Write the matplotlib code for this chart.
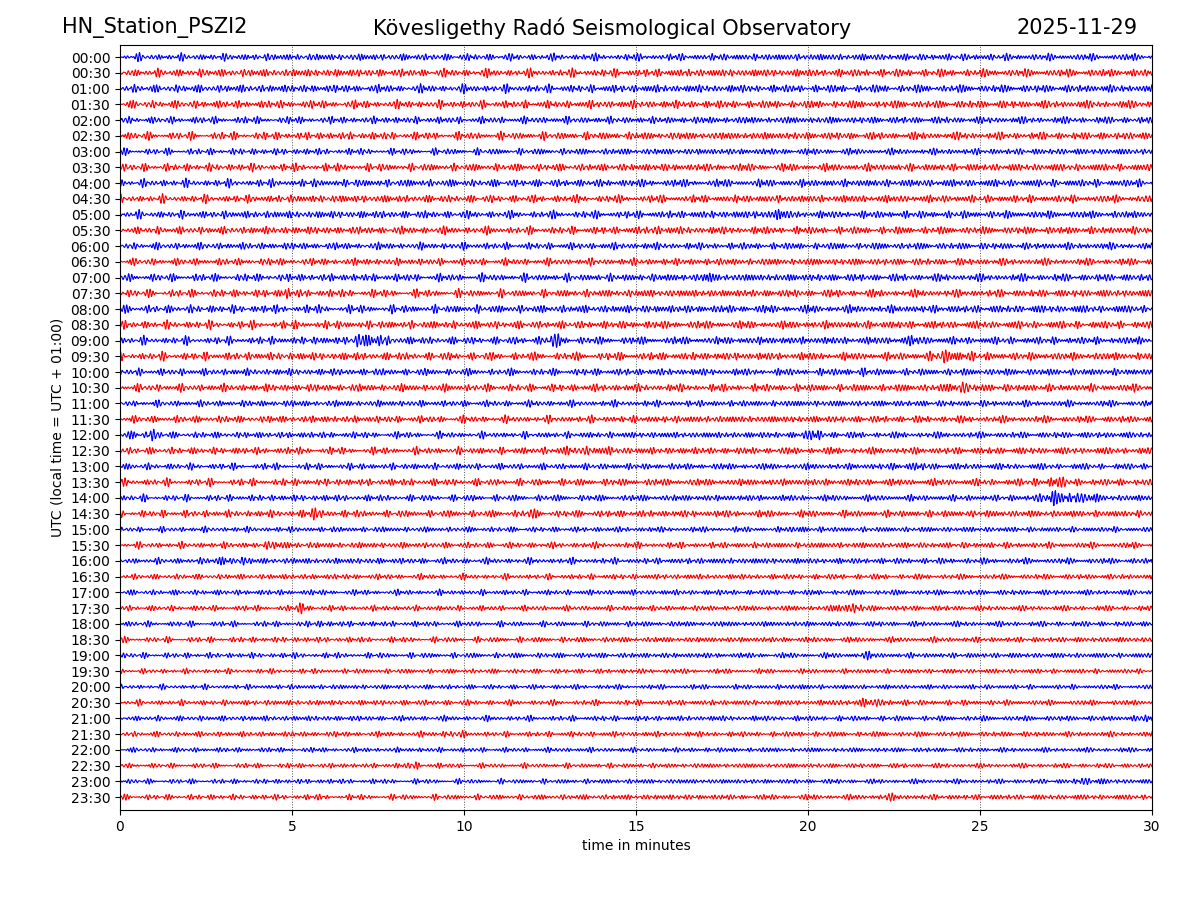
import numpy as np
import matplotlib
matplotlib.use("Agg")
import matplotlib.pyplot as plt

# ---- data ----
row_labels = [f"{h:02d}:{m:02d}" for h in range(24) for m in (0, 30)]
row_colors = ["blue" if i % 2 == 0 else "red" for i in range(48)]
x_ticks = [0, 5, 10, 15, 20, 25, 30]

# background half-amplitude of each trace (in row units)
base_amp = [0.22, 0.25, 0.25, 0.25, 0.22, 0.24, 0.20, 0.24, 0.24, 0.24,
            0.24, 0.24, 0.22, 0.22, 0.24, 0.24, 0.25, 0.25, 0.24, 0.25,
            0.22, 0.24, 0.20, 0.22, 0.20, 0.22, 0.20, 0.22, 0.20, 0.22,
            0.17, 0.19, 0.19, 0.17, 0.17, 0.17, 0.17, 0.17, 0.17, 0.15,
            0.15, 0.17, 0.17, 0.17, 0.15, 0.15, 0.15, 0.17]

# visible bursts: row index, centre (minutes), extra amplitude (row units), half-width (minutes)
event_row = [10, 11, 14, 15, 18, 18, 18, 18, 19, 20, 21, 24, 24, 25, 26, 27,
             28, 28, 29, 29, 30, 31, 32, 35, 35, 36, 38, 40, 41, 42, 43, 45, 46, 47]
event_min = [19.0, 15.6, 17.15, 4.85, 6.95, 7.4, 12.6, 23.0, 24.2, 21.3, 24.4, 0.75, 20.2, 13.5, 23.0, 27.1,
             27.25, 28.0, 5.7, 11.9, 19.8, 4.6, 3.2, 5.4, 21.2, 6.0, 21.6, 19.8, 21.8, 29.85, 9.6, 8.6, 28.2, 22.3]
event_amp = [0.15, 0.12, 0.14, 0.20, 0.30, 0.20, 0.24, 0.08, 0.24, 0.08, 0.26, 0.26, 0.16, 0.10, 0.08, 0.18,
             0.30, 0.14, 0.14, 0.12, 0.16, 0.12, 0.14, 0.28, 0.28, 0.06, 0.10, 0.06, 0.12, 0.14, 0.14, 0.10, 0.12, 0.08]
event_wid = [0.25, 0.15, 0.12, 0.12, 0.12, 0.3, 0.2, 0.4, 0.35, 0.3, 0.2, 0.25, 0.3, 0.6, 0.4, 0.35,
             0.35, 0.4, 0.3, 0.15, 0.12, 0.25, 0.35, 0.15, 0.25, 0.3, 0.2, 0.15, 0.5, 0.15, 0.2, 0.3, 0.3, 0.2]

# ---- figure ----
fig = plt.figure(figsize=(12, 9), dpi=100)
ax = fig.add_axes([0.1, 0.1, 0.86, 0.85])

t = np.linspace(0, 30, 9000)
freqs = [9.13, 10.71, 12.37, 13.93, 8.29, 11.47]
weights = [1.0, 0.8, 0.7, 0.5, 0.6, 0.6]
for i in range(48):
    env = np.full_like(t, base_amp[i])
    for r, c, a, w in zip(event_row, event_min, event_amp, event_wid):
        if r == i:
            env += a * np.exp(-0.5 * ((t - c) / w) ** 2)
    # line texture (trace carrier)
    carrier = np.zeros_like(t)
    for k, (f, wk) in enumerate(zip(freqs, weights)):
        carrier += wk * np.sin(2 * np.pi * f * t + (1.37 + 0.61 * k) * i + 0.9 * k)
    carrier /= 3.0
    ax.plot(t, i - env * carrier, color=row_colors[i], lw=0.8)

ax.set_xlim(0, 30)
ax.set_ylim(47.82, -0.77)
ax.set_yticks(range(48))
ax.set_yticklabels(row_labels, fontsize=10)
ax.set_xticks(x_ticks)
ax.set_xticklabels([str(v) for v in x_ticks], fontsize=10)
ax.grid(axis="x", linestyle=":", color="0.35", lw=0.7)
ax.set_xlabel("time in minutes", fontsize=10)
ax.set_ylabel("UTC (local time = UTC + 01:00)", fontsize=10)

fig.text(0.052, 0.969, "HN_Station_PSZI2", ha="left", va="center", fontsize=15)
fig.text(0.51, 0.969, "Kövesligethy Radó Seismological Observatory", ha="center", va="center", fontsize=15)
fig.text(0.948, 0.969, "2025-11-29", ha="right", va="center", fontsize=15)

fig.savefig("out.png", dpi=100)
